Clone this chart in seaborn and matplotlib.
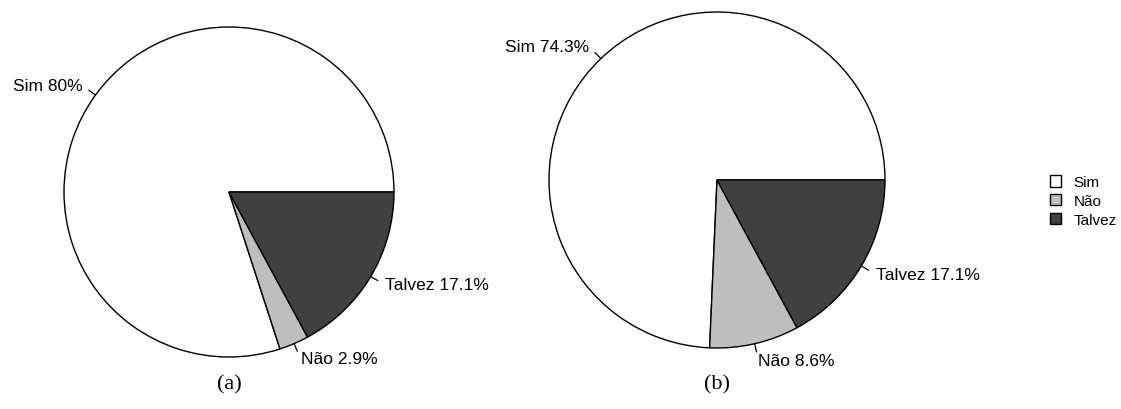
import matplotlib
matplotlib.use("Agg")
import matplotlib.pyplot as plt
import numpy as np
import seaborn as sns

categories = ["Sim", "Não", "Talvez"]
pct_a = [80.0, 2.9, 17.1]
pct_b = [74.3, 8.6, 17.1]
panel_tags = ["(a)", "(b)"]
slice_colors = ["#FFFFFF", "#BEBEBE", "#404040"]

sns.set_theme(style="white")
plt.rcParams["font.family"] = ["Liberation Sans", "DejaVu Sans"]
plt.rcParams["text.color"] = "black"

W, H = 1121, 410
fig = plt.figure(figsize=(W / 100, H / 100), dpi=100)
ax = fig.add_axes([0, 0, 1, 1])


def draw_pie(vals, cx, cy, r, tag):
    # R-style pie: counter-clockwise from 3 o'clock, labels outside with ticks
    wedges, _ = ax.pie(vals, colors=slice_colors, startangle=0, counterclock=True,
                       center=(cx, cy), radius=r, frame=True,
                       wedgeprops=dict(edgecolor="black", linewidth=1.0))
    for w, name, v in zip(wedges, categories, vals):
        mid = np.deg2rad((w.theta1 + w.theta2) / 2)
        c, s = np.cos(mid), np.sin(mid)
        ax.plot([cx + r * c, cx + 1.05 * r * c], [cy + r * s, cy + 1.05 * r * s],
                color="black", lw=0.9)
        ax.text(cx + 1.1 * r * c, cy + 1.1 * r * s, f"{name} {v:g}%",
                ha="left" if c > 0 else "right", va="center", fontsize=12.5)
    ax.text(cx, 25, tag, ha="center", va="center", fontsize=16,
            family="Liberation Serif")
    return wedges


wedges = draw_pie(pct_a, 229, H - 193, 165, panel_tags[0])
draw_pie(pct_b, 717, H - 181, 168, panel_tags[1])

ax.set_xlim(0, W)
ax.set_ylim(0, H)
ax.set_aspect("equal")
ax.axis("off")

fig.legend(wedges, categories, loc="center left",
           bbox_to_anchor=(1036 / W, 1 - 202 / H), frameon=False,
           handlelength=0.75, handleheight=0.75, handletextpad=0.8,
           labelspacing=0.3, fontsize=11)

fig.savefig("out.png", dpi=100)
